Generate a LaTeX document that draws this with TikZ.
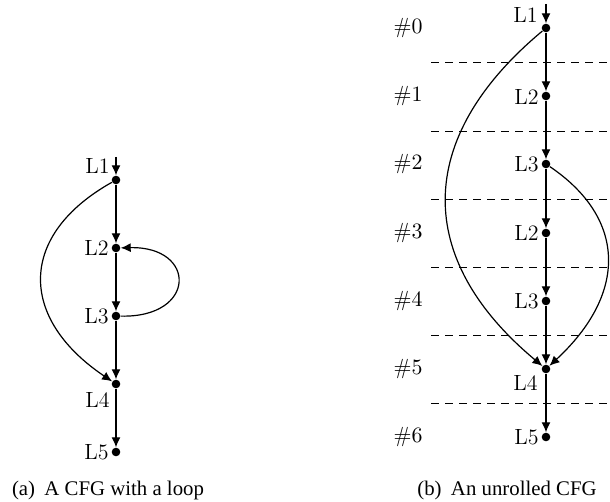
\documentclass[tikz,border=0pt]{standalone}
\usepackage{fontspec}
\newfontfamily\capfont{Liberation Serif}
\usetikzlibrary{arrows.meta}
\begin{document}
\begin{tikzpicture}[x=0.5pt,y=-0.5pt,
  dot/.style={circle,fill=black,inner sep=0pt,minimum size=4.3pt},
  arr/.style={line width=0.6pt,-{Latex[length=5pt,width=4.5pt]}},
  lbl/.style={inner sep=0pt,font=\fontsize{11}{13}\selectfont},
  sep/.style={dashed,dash pattern=on 4pt off 3pt,line width=0.45pt},
  captext/.style={inner sep=0pt,anchor=base,font=\capfont\fontsize{10.4}{12}\selectfont}]
\useasboundingbox (0,0) rectangle (610,502);

% ---------- (a) ----------
\coordinate (a0) at (116,157);
\node[dot] (a1) at (116,180) {};
\node[dot] (a2) at (116,248) {};
\node[dot] (a3) at (116,316) {};
\node[dot] (a4) at (116,384) {};
\node[dot] (a5) at (116,452) {};
\node[lbl,anchor=east] (la1) at (110,166) {L1};
\node[lbl,anchor=east] (la2) at (109,248) {L2};
\node[lbl,anchor=east] (la3) at (109,316) {L3};
\node[lbl,anchor=east] (la4) at (110,400) {L4};
\node[lbl,anchor=east] (la5) at (109,452) {L5};
\draw[arr] (a0) -- (a1);
\draw[arr] (a1) -- (a2);
\draw[arr] (a2) -- (a3);
\draw[arr] (a3) -- (a4);
\draw[arr] (a4) -- (a5);
\draw[arr] (a1) .. controls (18,235) and (18,318) .. (a4);
\draw[arr] (a3) .. controls (197,318) and (197,246) .. (a2);
\node[captext] (capa) at (108,495) {(a)\hspace{0.45em}A CFG with a loop};

% ---------- (b) ----------
\coordinate (b0) at (546,4);
\node[dot] (b1) at (546,28) {};
\node[dot] (b2) at (546,96) {};
\node[dot] (b3) at (546,164) {};
\node[dot] (b4) at (546,233) {};
\node[dot] (b5) at (546,301) {};
\node[dot] (b6) at (546,369) {};
\node[dot] (b7) at (546,437) {};
\node[lbl,anchor=east] (lb1) at (538,15) {L1};
\node[lbl,anchor=east] (lb2) at (539,97) {L2};
\node[lbl,anchor=east] (lb3) at (539,164) {L3};
\node[lbl,anchor=east] (lb4) at (539,233) {L2};
\node[lbl,anchor=east] (lb5) at (539,301) {L3};
\node[lbl,anchor=east] (lb6) at (538,383) {L4};
\node[lbl,anchor=east] (lb7) at (539,437) {L5};
\foreach \i/\y in {0/28,1/96,2/164,3/233,4/301,5/369,6/437}
  \node[lbl] (h\i) at (408,\y) {$\#\i$};
\foreach \i/\y in {1/62,2/131,3/199,4/267,5/335,6/403}{
  \coordinate (s\i l) at (431,\y);
  \coordinate (s\i r) at (612,\y);
  \draw[sep] (s\i l) -- (s\i r);
}
\draw[arr] (b0) -- (b1);
\draw[arr] (b1) -- (b2);
\draw[arr] (b2) -- (b3);
\draw[arr] (b3) -- (b4);
\draw[arr] (b4) -- (b5);
\draw[arr] (b5) -- (b6);
\draw[arr] (b6) -- (b7);
\draw[arr] (b1) .. controls (414,138) and (414,259) .. (b6);
\draw[arr] (b3) .. controls (627,219) and (627,294) .. (b6);
\node[captext] (capb) at (507,495) {(b)\hspace{0.45em}An unrolled CFG};
\end{tikzpicture}
\end{document}
